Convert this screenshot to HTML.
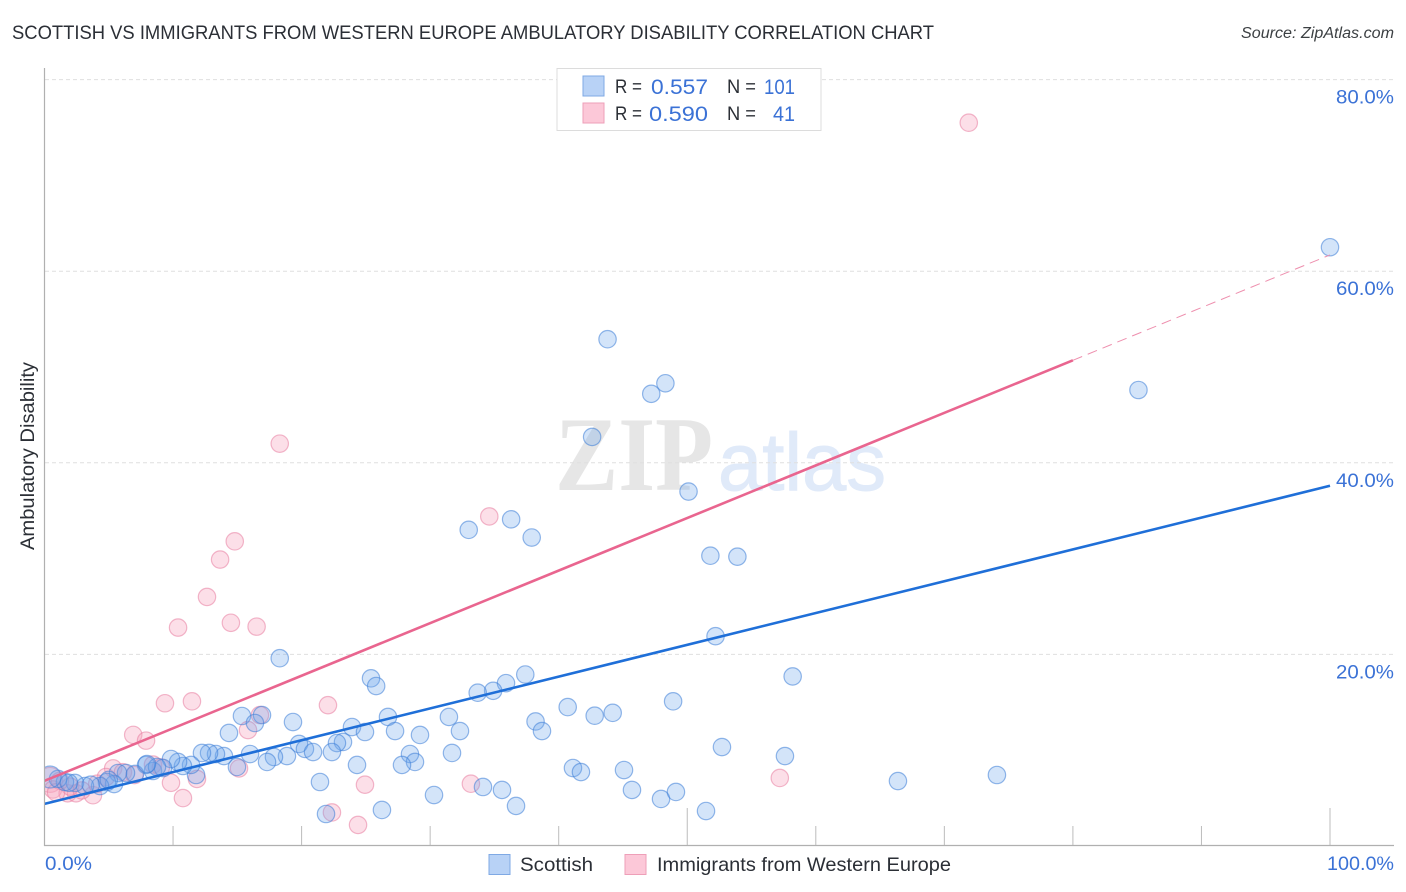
<!DOCTYPE html>
<html lang="en">
<head>
<meta charset="utf-8">
<title>Scottish vs Immigrants from Western Europe Ambulatory Disability Correlation Chart</title>
<style>
html,body{margin:0;padding:0;background:#fff;width:1406px;height:892px;overflow:hidden}
svg{display:block;font-family:"Liberation Sans",sans-serif}
</style>
</head>
<body>
<svg id="chart" width="1406" height="892" viewBox="0 0 1406 892" xmlns="http://www.w3.org/2000/svg">
<defs><clipPath id="plot-clip"><rect x="45" y="60" width="1350" height="785"/></clipPath></defs>
<text x="12" y="39" font-size="19.5" fill="#2b2f36" textLength="922" lengthAdjust="spacingAndGlyphs">SCOTTISH VS IMMIGRANTS FROM WESTERN EUROPE AMBULATORY DISABILITY CORRELATION CHART</text>
<text x="1394" y="38" font-size="15.5" font-style="italic" fill="#3c4043" text-anchor="end" textLength="153" lengthAdjust="spacingAndGlyphs">Source: ZipAtlas.com</text>
<text x="555" y="490" font-family="'Liberation Serif',serif" font-weight="bold" font-size="106" fill="#e6e6e6" textLength="158" lengthAdjust="spacingAndGlyphs">ZIP</text>
<text x="718" y="490" font-size="82" fill="#e0eaf9" stroke="#e0eaf9" stroke-width="1" textLength="168" lengthAdjust="spacingAndGlyphs">atlas</text>
<g id="grid"></g>
<g id="pink-points" clip-path="url(#plot-clip)"></g>
<g id="blue-points" clip-path="url(#plot-clip)"></g>
<g id="trends"></g>
<g id="axes"></g>
<text transform="translate(34,456) rotate(-90)" font-size="19" fill="#2b2f36" text-anchor="middle" textLength="188" lengthAdjust="spacingAndGlyphs">Ambulatory Disability</text>
<g>
<rect x="557" y="68.5" width="264" height="62" fill="#fff" stroke="#dcdcdc" stroke-width="1"/>
<rect x="583" y="76" width="21" height="20" fill="#b8d2f6" stroke="#7fa9e4" stroke-width="1"/>
<rect x="583" y="103" width="21" height="20" fill="#fcc8d8" stroke="#ee9fb8" stroke-width="1"/>
<text x="615" y="93" font-size="19" fill="#2b2f36" textLength="27" lengthAdjust="spacingAndGlyphs">R =</text>
<text x="651" y="94" font-size="21.5" fill="#3b72d6" textLength="57" lengthAdjust="spacingAndGlyphs">0.557</text>
<text x="727" y="93" font-size="19" fill="#2b2f36" textLength="29" lengthAdjust="spacingAndGlyphs">N =</text>
<text x="764" y="94" font-size="21.5" fill="#3b72d6" textLength="31" lengthAdjust="spacingAndGlyphs">101</text>
<text x="615" y="120" font-size="19" fill="#2b2f36" textLength="27" lengthAdjust="spacingAndGlyphs">R =</text>
<text x="649" y="121" font-size="21.5" fill="#3b72d6" textLength="59" lengthAdjust="spacingAndGlyphs">0.590</text>
<text x="727" y="120" font-size="19" fill="#2b2f36" textLength="29" lengthAdjust="spacingAndGlyphs">N =</text>
<text x="773" y="121" font-size="21.5" fill="#3b72d6" textLength="22" lengthAdjust="spacingAndGlyphs">41</text>
</g>
<g>
<rect x="489" y="854.5" width="21" height="20" fill="#b8d2f6" stroke="#7fa9e4" stroke-width="1"/>
<text x="520" y="871" font-size="19.5" fill="#2b2f36" textLength="73" lengthAdjust="spacingAndGlyphs">Scottish</text>
<rect x="625" y="854.5" width="21" height="20" fill="#fcc8d8" stroke="#ee9fb8" stroke-width="1"/>
<text x="657" y="871" font-size="19.5" fill="#2b2f36" textLength="294" lengthAdjust="spacingAndGlyphs">Immigrants from Western Europe</text>
</g>
</svg>
<script>
// Values are percentages.
const scottishX = [100,85.1,43.8,48.3,47.2,42.6,50.1,36.3,33.0,37.9,51.8,53.9,52.2,18.3,58.2,37.4,25.4,25.8,35.9,34.9,33.7,48.9,40.7,44.2,42.8,31.46,38.2,38.7,26.72,16.92,15.36,19.33,23.92,24.93,27.27,29.21,32.32,14.35,23.22,22.75,22.36,19.8,20.26,20.89,18.86,17.85,17.31,15.99,14.97,13.96,13.34,12.8,12.25,11.79,11.4,10.77,10.39,9.84,8.44,7.9,7.04,6.34,5.72,5.41,4.86,4.32,3.15,2.37,1.59,1.05,0.43,16.37,31.7,28.43,28.82,27.81,24.31,21.43,21.9,26.25,30.3,34.11,35.59,36.68,41.11,41.73,45.08,45.7,47.96,49.12,51.46,52.7,57.6,66.39,74.09,9.22,8.75,7.97,3.6,5.0,1.9];
const scottishY = [62.5,47.6,52.9,48.3,47.2,42.7,37.0,34.1,33.0,32.2,30.3,30.2,21.9,19.6,17.7,17.9,17.5,16.7,17.0,16.2,16.0,15.1,14.5,13.9,13.6,13.47,13.0,12.0,13.47,13.67,13.57,12.94,12.42,11.9,12.0,11.59,12.0,11.8,10.86,10.75,9.81,10.65,10.13,9.81,9.39,9.29,8.77,9.6,8.25,9.39,9.6,9.71,9.71,7.41,8.46,8.35,8.77,9.08,7.83,8.46,7.52,7.62,7.62,6.47,6.68,6.26,6.26,6.58,6.68,7.0,7.2,12.84,9.71,9.6,8.77,8.46,8.46,6.68,3.34,3.76,5.32,6.16,5.85,4.18,8.14,7.72,7.93,5.85,4.91,5.64,3.65,10.33,9.39,6.78,7.41,8.14,8.25,8.56,6.4,6.9,6.6];
const scottishLarge = [70];
const immigrantsX = [71.9,18.3,34.6,14.8,13.66,12.64,10.39,14.5,16.5,9.37,11.47,22.05,6.9,7.9,16.76,15.83,57.2,33.17,24.93,22.36,24.39,15.13,9.84,11.86,10.77,8.44,9.05,0.43,0.66,1.8,2.45,3.77,1.99,5.34,4.78,6.1,7.0,2.9,4.1,1.2,0.9];
const immigrantsY = [75.5,42.0,34.4,31.8,29.9,26.0,22.8,23.3,22.9,14.9,15.1,14.7,11.6,11.0,13.67,12.1,7.1,6.5,6.4,3.5,2.2,8.1,6.6,7.0,5.0,8.5,8.2,6.9,5.9,5.5,5.5,5.3,6.2,8.1,7.2,7.7,7.4,5.8,6.5,6.8,5.6];
const immigrantsLarge = [27];
const scottishTrend = [4.4,37.6];
const immigrantsTrend = [6.8,50.7,61.7];
const trendX = [0,80,100];
const xTicks = [0,10,20,30,40,50,60,70,80,90,100];
const xTallTicks = [50,100];
const xTickLabels = ["0.0%","100.0%"];
const yTicks = [20,40,60,80];
const yTickLabels = ["20.0%","40.0%","60.0%","80.0%"];

const NS = 'http://www.w3.org/2000/svg';
function sx(v){return 44.5+v*12.855;}
function sy(v){return 846-v*9.58;}
function mk(parent,tag,attrs,txt){
  const el=document.createElementNS(NS,tag);
  for(const k in attrs){el.setAttribute(k,attrs[k]);}
  if(txt!==undefined){el.textContent=txt;}
  parent.appendChild(el);
  return el;
}
const grid=document.getElementById('grid');
const axes=document.getElementById('axes');
const trends=document.getElementById('trends');
const bluePts=document.getElementById('blue-points');
const pinkPts=document.getElementById('pink-points');

yTicks.forEach(function(t,i){
  const g=mk(grid,'line',{x1:45,x2:1394,y1:sy(t),y2:sy(t),stroke:'#dfdfdf','stroke-width':1,'stroke-dasharray':'4 3'});
  
  
  const l=mk(axes,'text',{x:1394,y:sy(t)+24,'font-size':19.5,fill:'#3b72d6','text-anchor':'end',textLength:58,lengthAdjust:'spacingAndGlyphs'},yTickLabels[i]);
  
  
});

immigrantsX.forEach(function(x,i){
  const c=mk(pinkPts,'circle',{cx:sx(x),cy:sy(immigrantsY[i]),r:immigrantsLarge.indexOf(i)>=0?12.5:8.7,fill:'rgba(248,165,190,0.36)',stroke:'rgba(232,125,160,0.55)','stroke-width':1.2});
  
  
});
scottishX.forEach(function(x,i){
  const c=mk(bluePts,'circle',{cx:sx(x),cy:sy(scottishY[i]),r:scottishLarge.indexOf(i)>=0?11:8.7,fill:'rgba(110,165,235,0.3)',stroke:'rgba(60,125,215,0.55)','stroke-width':1.2});
  
  
});

const blueTrend=mk(trends,'line',{x1:sx(trendX[0]),y1:sy(scottishTrend[0]),x2:sx(trendX[2]),y2:sy(scottishTrend[1]),stroke:'#1f6fd8','stroke-width':2.6});


const pinkTrend=mk(trends,'line',{x1:sx(trendX[0]),y1:sy(immigrantsTrend[0]),x2:sx(trendX[1]),y2:sy(immigrantsTrend[1]),stroke:'#e9658f','stroke-width':2.6});


const pinkDash=mk(trends,'line',{x1:sx(trendX[1]),y1:sy(immigrantsTrend[1]),x2:sx(trendX[2]),y2:sy(immigrantsTrend[2]),stroke:'#ee8fae','stroke-width':1,'stroke-dasharray':'10 6'});



const yAxis=mk(axes,'line',{x1:44.5,x2:44.5,y1:68,y2:846,stroke:'#b0b0b0','stroke-width':1.2});


const xAxis=mk(axes,'line',{x1:44,x2:1394,y1:845.5,y2:845.5,stroke:'#b0b0b0','stroke-width':1.2});


xTicks.forEach(function(t){
  if(t===0){return;}
  const tall=xTallTicks.indexOf(t)>=0;
  const k=mk(axes,'line',{x1:sx(t),x2:sx(t),y1:tall?808:826,y2:845,stroke:'#bcbcbc','stroke-width':1});
  
  
});
const x0=mk(axes,'text',{x:45,y:870,'font-size':19.5,fill:'#3b72d6',textLength:47,lengthAdjust:'spacingAndGlyphs'},xTickLabels[0]);


const x100=mk(axes,'text',{x:1394,y:870,'font-size':19.5,fill:'#3b72d6','text-anchor':'end',textLength:67,lengthAdjust:'spacingAndGlyphs'},xTickLabels[1]);


</script>
</body>
</html>
